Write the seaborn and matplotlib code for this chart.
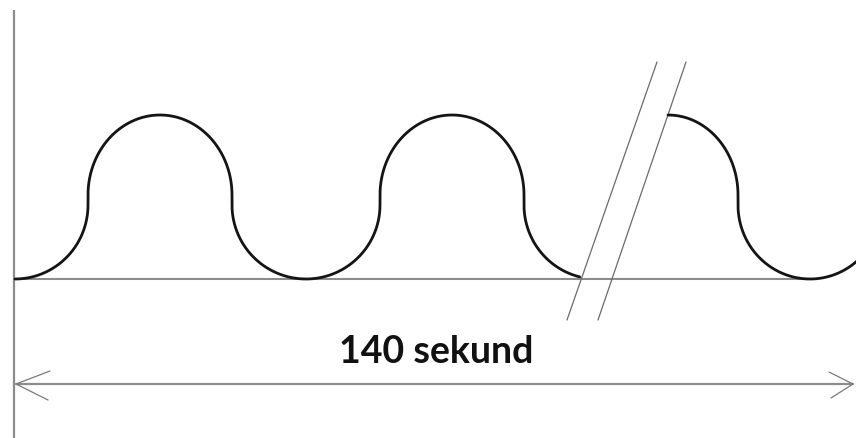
import numpy as np
import matplotlib
matplotlib.use("Agg")
import matplotlib.pyplot as plt
import seaborn as sns

# ---- diagram data (pixel-space units of the drawing) ----
label_text = "140 sekund"
# wave before the break
valleys_a = [15, 306, 597]          # valley x positions
crests_a = [160, 452]               # crest x positions
crest_half_width = 72
lower_half_widths_a = [73, 74, 74, 73]
wave_cut_x = 580                    # wave stops at the break
# wave after the break
crest_b = 668
crest_b_half_width = 70
valley_b = 810
lower_half_width_b = 72
# vertical levels
crest_y = 115
upper_join_y = 195
lower_join_y = 205
baseline_y = 279
# guides
baseline_x = [14, 812]
axis_x = 14
axis_y = [10, 438]
break_lines = [((657, 62), (567, 320)), ((686, 62), (598, 320))]
arrow_y = 384
arrow_x = [16, 853]
text_pos = (436, 363)

sns.set_theme(style="white")
plt.rcParams['font.family'] = ['Lato', 'DejaVu Sans']

fig = plt.figure(figsize=(8.56, 4.38), dpi=100)
ax = fig.add_axes([0, 0, 1, 1])
ax.set_xlim(0, 856)
ax.set_ylim(438, 0)
ax.axis("off")

N = 60

def rise(vx, a):
    t = np.linspace(0, np.pi / 2, N)
    return vx + a * np.sin(t), lower_join_y + (baseline_y - lower_join_y) * np.cos(t)

def fall(vx, a):
    t = np.linspace(np.pi / 2, 0, N)
    return vx - a * np.sin(t), lower_join_y + (baseline_y - lower_join_y) * np.cos(t)

def crest(cx, a, t0=np.pi, t1=0.0):
    t = np.linspace(t0, t1, 2 * N)
    return cx + a * np.cos(t), upper_join_y - (upper_join_y - crest_y) * np.sin(t)

# path A
xs, ys = [], []
def add(seg):
    xs.extend(seg[0]); ys.extend(seg[1])

add(rise(valleys_a[0], lower_half_widths_a[0]))
add(crest(crests_a[0], crest_half_width))
add(fall(valleys_a[1], lower_half_widths_a[1]))
add(rise(valleys_a[1], lower_half_widths_a[2]))
add(crest(crests_a[1], crest_half_width))
fx, fy = fall(valleys_a[2], lower_half_widths_a[3])
m = fx <= wave_cut_x
add((fx[m], fy[m]))

# path B
xb, yb = [], []
for seg in (crest(crest_b, crest_b_half_width, np.pi / 2, 0.0),
            fall(valley_b, lower_half_width_b),
            rise(valley_b, lower_half_width_b)):
    xb.extend(seg[0]); yb.extend(seg[1])

gray = "#8c8c8c"
# guides
ax.plot([axis_x, axis_x], axis_y, color=gray, lw=1.6, solid_capstyle="butt")
ax.plot(baseline_x, [baseline_y, baseline_y], color=gray, lw=1.5)
for (x0, y0), (x1, y1) in break_lines:
    ax.plot([x0, x1], [y0, y1], color="#6a6a6a", lw=0.9)

sns.lineplot(x=xs, y=ys, sort=False, estimator=None, color="#141414", lw=2.0, ax=ax)
sns.lineplot(x=xb, y=yb, sort=False, estimator=None, color="#141414", lw=2.0, ax=ax)

# dimension arrow
ax.plot(arrow_x, [arrow_y, arrow_y], color=gray, lw=1.6)
ax.plot([50, arrow_x[0], 48], [371, arrow_y, 400], color="#7a7a7a", lw=0.9)
ax.plot([829, arrow_x[1], 831], [372, arrow_y, 398], color="#7a7a7a", lw=0.9)

ax.text(text_pos[0], text_pos[1], label_text, ha="center", va="baseline",
        fontsize=27, fontweight="bold", color="#111111")

fig.savefig("out.png", dpi=100)
